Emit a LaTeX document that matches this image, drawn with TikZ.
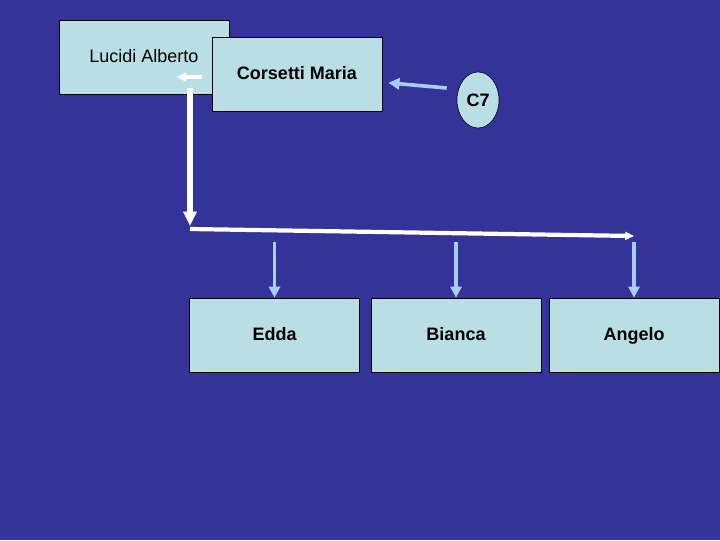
\documentclass[tikz,border=0pt]{standalone}
\usepackage{fontspec}
\setmainfont{Liberation Sans}
\usetikzlibrary{arrows,arrows.meta,shapes,positioning}
\definecolor{bgblue}{RGB}{51,51,153}
\definecolor{boxblue}{RGB}{185,223,228}
\definecolor{arrblue}{RGB}{170,204,238}
\begin{document}
\begin{tikzpicture}[x=0.025cm,y=-0.025cm,
 box/.style={rectangle, draw=black, fill=boxblue, minimum width=4.25cm, minimum height=1.85cm, inner sep=0pt, text height=1.8ex, text depth=0.23ex, font=\bfseries\fontsize{12.8}{15}\selectfont},
 warr/.style={draw=white, line width=3.2pt, -{Triangle[length=0.36cm,width=0.32cm]}},
 barr/.style={draw=arrblue, line width=2.6pt, -{Triangle[length=0.28cm,width=0.28cm]}}]
\fill[bgblue] (0,0) rectangle (720,540);
\useasboundingbox (0,0) rectangle (720,540);
\tikzstyle{circ}=[ellipse, draw=black, fill=boxblue, minimum width=1.05cm, minimum height=1.4cm, inner sep=0pt, font=\bfseries\fontsize{12.8}{15}\selectfont]
% parents
\node[box, font=\fontsize{12.8}{15}\selectfont] (lucidi) at (144,57){Lucidi Alberto};
\node[box] (corsetti) at (297,74){Corsetti Maria};
\node[circ] (c7) at (478,100){C7};
% children
\foreach \n/\t/\x in {edda/Edda/274.5,bianca/Bianca/456,angelo/Angelo/634}{
\node[box] (\n) at (\x,335){\t};
}
\coordinate (mar) at (202,77);
\coordinate (marTip) at (177,77);
\coordinate (vtop) at (190,88);
\coordinate (vbot) at (190,226);
\coordinate (fl) at (190,229);
\coordinate (fr) at (634,236);
\draw[barr, line width=2.6pt] ([xshift=-0.25cm,yshift=0.3cm]c7.west) -- ([xshift=0.15cm,yshift=-0.22cm]corsetti.east);
\draw[warr, line width=2.4pt, -{Triangle[length=0.22cm,width=0.22cm]}] (mar) -- (marTip);
\draw[warr, line width=3.6pt] (vtop) -- (vbot);
\draw[warr, line width=3pt, -{Triangle[length=0.22cm,width=0.2cm]}] (fl) -- (fr);
\foreach \n in {edda,bianca,angelo}{\draw[barr] ([yshift=1.4cm]\n.north) -- (\n.north);}
\end{tikzpicture}
\end{document}
